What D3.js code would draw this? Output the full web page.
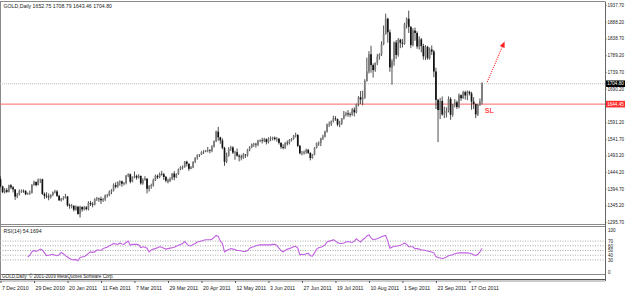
<!DOCTYPE html>
<html><head><meta charset="utf-8">
<script src="https://cdn.jsdelivr.net/npm/d3@7"></script>
<style>
html,body{margin:0;padding:0;background:#fff;}
svg{display:block;font-family:"Liberation Sans",Arial,sans-serif;}
</style></head><body>
<svg id="c" width="625" height="291"></svg>
<script>
// ---------- data ----------
const symbolTitle = "GOLD,Daily";
const lastOHLC = ["1652.75", "1708.79", "1643.46", "1704.80"];
const tickBars = [0, 16, 32, 48, 64, 80, 96, 112, 128, 144, 160, 176, 192, 208, 224];
const tickLabels = ["7 Dec 2010", "29 Dec 2010", "20 Jan 2011", "11 Feb 2011", "7 Mar 2011", "29 Mar 2011",
  "20 Apr 2011", "12 May 2011", "3 Jun 2011", "27 Jun 2011", "19 Jul 2011", "10 Aug 2011",
  "1 Sep 2011", "23 Sep 2011", "17 Oct 2011"];
const priceTicks = [1937.70, 1888.20, 1838.70, 1789.20, 1739.70, 1690.20, 1591.20, 1541.70,
  1493.20, 1444.20, 1394.70, 1345.20, 1295.70];
const rsiLevels = [70, 60, 50, 40, 30];
const rsiAxisLabels = [100, 70, 60, 50, 40, 30, 0];

const opens = [1422,1401,1384,1390,1385,1404,1398,1392,1371,1378,1388,1388,1387,1378,1380,1382,1405,1414,1405,1421,
1422,1379,1373,1371,1369,1376,1384,1386,1373,1360,1364,1367,1371,1345,1343,1343,1332,1341,1319,1340,
1333,1339,1334,1352,1349,1347,1363,1365,1364,1360,1363,1374,1375,1385,1388,1405,1400,1413,1416,1409,
1411,1433,1437,1415,1429,1432,1427,1432,1410,1420,1424,1394,1401,1404,1420,1432,1428,1438,1437,1429,
1418,1417,1424,1439,1428,1437,1452,1458,1459,1474,1468,1453,1457,1474,1486,1493,1495,1503,1504,1507,
1508,1506,1519,1535,1563,1546,1537,1515,1474,1492,1512,1516,1501,1502,1492,1489,1487,1495,1493,1510,
1517,1526,1527,1525,1536,1537,1536,1541,1532,1542,1544,1545,1541,1542,1530,1518,1515,1530,1529,1538,
1542,1551,1553,1521,1499,1500,1503,1509,1500,1485,1495,1515,1529,1530,1543,1548,1563,1584,1586,1594,
1602,1600,1584,1587,1602,1613,1617,1614,1613,1628,1620,1644,1665,1658,1663,1713,1741,1792,1760,1745,
1766,1785,1791,1822,1852,1897,1857,1753,1771,1827,1790,1835,1826,1823,1881,1897,1873,1819,1862,1855,
1815,1836,1816,1786,1814,1780,1806,1800,1741,1657,1627,1654,1614,1617,1624,1660,1613,1642,1650,1636,
1671,1662,1680,1670,1681,1676,1652,1645,1614,1642,1652.75];
const highs = [1431,1403,1396,1396,1406,1408,1402,1393,1382,1392,1392,1392,1390,1383,1389,1408,1418,1416,1424,1424,
1424,1383,1384,1380,1378,1386,1391,1390,1376,1367,1372,1379,1373,1350,1349,1346,1345,1343,1344,1342,
1343,1343,1357,1358,1355,1366,1370,1368,1371,1367,1377,1379,1389,1393,1410,1413,1416,1419,1418,1414,
1435,1440,1439,1431,1445,1436,1437,1433,1425,1431,1425,1405,1409,1424,1436,1436,1442,1447,1441,1432,
1424,1428,1440,1446,1440,1454,1461,1463,1476,1477,1469,1461,1475,1487,1496,1497,1505,1508,1509,1518,
1511,1523,1537,1566,1577,1548,1543,1518,1501,1517,1521,1520,1506,1513,1496,1495,1500,1497,1512,1520,
1528,1530,1530,1539,1540,1545,1545,1543,1546,1549,1548,1549,1547,1544,1531,1526,1532,1537,1541,1544,
1553,1560,1556,1524,1506,1507,1513,1512,1502,1497,1517,1531,1534,1545,1554,1566,1587,1593,1596,1610,
1609,1602,1595,1603,1624,1622,1627,1620,1633,1635,1646,1668,1683,1684,1718,1782,1801,1817,1765,1768,
1793,1795,1830,1877,1912,1900,1865,1777,1830,1834,1840,1838,1837,1885,1901,1921,1875,1869,1871,1860,
1845,1840,1823,1819,1817,1812,1818,1805,1752,1660,1663,1667,1637,1635,1667,1665,1645,1659,1655,1676,
1673,1684,1684,1685,1684,1681,1665,1646,1645,1661,1708.79];
const lows = [1398,1381,1380,1382,1383,1393,1383,1361,1366,1374,1382,1382,1375,1376,1376,1380,1403,1401,1404,1411,
1376,1364,1366,1360,1365,1372,1380,1370,1358,1356,1360,1365,1341,1335,1336,1327,1329,1318,1309,1326,
1330,1330,1330,1343,1339,1345,1358,1355,1349,1355,1358,1368,1372,1378,1386,1395,1397,1403,1400,1404,
1407,1428,1410,1413,1425,1421,1424,1406,1406,1418,1380,1386,1394,1400,1417,1423,1425,1433,1420,1413,
1410,1414,1420,1419,1426,1435,1449,1451,1456,1460,1447,1452,1455,1470,1480,1488,1494,1497,1502,1502,
1499,1502,1516,1532,1536,1527,1511,1462,1470,1489,1506,1497,1480,1489,1475,1478,1482,1485,1489,1505,
1514,1518,1516,1520,1532,1528,1532,1525,1528,1535,1537,1537,1533,1525,1512,1511,1512,1522,1525,1534,
1539,1546,1517,1496,1493,1495,1497,1497,1478,1483,1493,1513,1521,1520,1538,1546,1560,1577,1580,1590,
1595,1579,1576,1583,1599,1608,1607,1606,1610,1608,1617,1638,1645,1641,1660,1711,1735,1737,1723,1740,
1760,1776,1787,1819,1850,1826,1740,1702,1758,1778,1785,1810,1812,1820,1868,1855,1810,1815,1832,1808,
1806,1798,1776,1775,1776,1776,1790,1724,1630,1532,1600,1610,1603,1605,1620,1598,1607,1635,1630,1632,
1654,1660,1658,1656,1670,1628,1630,1603,1609,1639,1643.46];
const closes = [1401,1384,1390,1385,1404,1398,1392,1371,1378,1388,1388,1387,1378,1380,1382,1405,1414,1405,1421,1422,
1379,1373,1371,1369,1376,1384,1386,1373,1360,1364,1367,1371,1345,1343,1343,1332,1341,1319,1340,1333,
1339,1334,1352,1349,1347,1363,1365,1364,1360,1363,1374,1375,1385,1388,1405,1400,1413,1416,1409,1411,
1433,1437,1415,1429,1432,1427,1432,1410,1420,1424,1394,1401,1404,1420,1432,1428,1438,1437,1429,1418,
1417,1424,1439,1428,1437,1452,1458,1459,1474,1468,1453,1457,1474,1486,1493,1495,1503,1504,1507,1508,
1506,1519,1535,1563,1546,1537,1515,1474,1492,1512,1516,1501,1502,1492,1489,1487,1495,1493,1510,1517,
1526,1527,1525,1536,1537,1536,1541,1532,1542,1544,1545,1541,1542,1530,1518,1515,1530,1529,1538,1542,
1551,1553,1521,1499,1500,1503,1509,1500,1485,1495,1515,1529,1530,1543,1548,1563,1584,1586,1594,1602,
1600,1584,1587,1602,1613,1617,1614,1613,1628,1620,1644,1665,1658,1663,1713,1741,1792,1760,1745,1766,
1785,1791,1822,1852,1897,1857,1753,1771,1827,1790,1835,1826,1823,1881,1897,1873,1819,1862,1855,1815,
1836,1816,1786,1814,1780,1806,1800,1741,1657,1627,1654,1614,1617,1624,1660,1613,1642,1650,1636,1671,
1662,1680,1670,1681,1676,1652,1645,1614,1642,1652.75,1704.80];

const rsiStart = 13;
const rsiValues = [36,40,47,50,48,50,53,51,45,39,40,41,42,40,39,41,46,43,39,36,
33,31,30,31,28,35,36,37,40,44,47,46,47,51,51,50,54,56,57,60,
62,65,64,63,66,64,63,67,70,61,63,63,63,62,56,58,57,55,47,51,
53,54,56,58,57,55,53,54,55,56,57,59,61,63,65,69,64,60,60,63,
65,68,69,70,72,73,73,73,74,78,82,80,70,65,47,50,52,54,53,52,
50,50,49,48,48,50,55,57,58,60,61,62,62,62,62,62,62,63,63,61,
55,50,47,50,53,54,56,58,59,55,41,42,41,43,44,39,38,45,53,56,
57,59,62,68,70,71,73,70,67,65,65,66,68,69,68,67,70,75,71,68,
73,76,81,83,77,73,74,75,77,79,81,82,70,55,57,59,59,60,61,63,
66,63,58,58,58,54,54,53,51,51,50,49,48,47,45,37,35,34,33,34,
36,39,40,41,43,44,45,45,45,45,45,44,43,41,39,42,47,54.1694];

const stopLoss = 1644.45;
const stopLabel = "SL";
const lastPrice = 1704.80;
const arrowFrom = [232.5, 1710];
const arrowTo = [240.8, 1830];
const copyright = "GOLD,Daily: \u00a9 2001-2009 MetaQuotes Software Corp.";

// ---------- layout ----------
const svg = d3.select("#c");
const plotR = 605;
const mainTop = 1.5, mainBot = 224.5, rsiTop = 226.5, rsiBot = 274.5;
const fs = 5.2;      // general small text
const fsAxis = 4.6;  // right price scale text
const FONT = "Liberation Sans, Arial, sans-serif";

const x = d3.scaleLinear().domain([0, 230]).range([0.5, 482]);
const y = d3.scaleLinear().domain([1295.70, 1937.70]).range([222, 5]);
const yr = d3.scaleLinear().domain([0, 100]).range([274, 227]);

// frames
const frame = svg.append("g").attr("stroke", "#8a8a8a").attr("fill", "none").attr("stroke-width", 1);
frame.append("line").attr("x1", 0).attr("x2", plotR).attr("y1", mainTop).attr("y2", mainTop);
frame.append("line").attr("x1", 0.5).attr("x2", 0.5).attr("y1", mainTop).attr("y2", 279);
frame.append("line").attr("x1", 0).attr("x2", plotR).attr("y1", mainBot).attr("y2", mainBot);
frame.append("line").attr("x1", 0).attr("x2", plotR).attr("y1", rsiTop).attr("y2", rsiTop);
frame.append("line").attr("x1", 0).attr("x2", plotR).attr("y1", rsiBot).attr("y2", rsiBot);
frame.append("line").attr("x1", 0).attr("x2", plotR).attr("y1", 279.5).attr("y2", 279.5).attr("stroke", "#555");
frame.append("line").attr("x1", 0).attr("x2", plotR).attr("y1", 281).attr("y2", 281).attr("stroke", "#999");

// price line & SL line
svg.append("line").attr("x1", 0).attr("x2", plotR).attr("y1", y(lastPrice)).attr("y2", y(lastPrice))
  .attr("stroke", "#bdbdbd").attr("stroke-dasharray", "1,1");
svg.append("line").attr("x1", 0).attr("x2", plotR).attr("y1", y(stopLoss)).attr("y2", y(stopLoss))
  .attr("stroke", "#ff6464").attr("stroke-width", 1);

// candles
const idx = d3.range(closes.length);
const cg = svg.append("g");
cg.selectAll("line.w").data(idx).join("line").attr("class", "w")
  .attr("x1", i => x(i)).attr("x2", i => x(i))
  .attr("y1", i => y(highs[i])).attr("y2", i => y(lows[i]))
  .attr("stroke", "#3a3a3a").attr("stroke-width", 0.9);
cg.selectAll("rect.b").data(idx).join("rect").attr("class", "b")
  .attr("x", i => x(i) - 0.85).attr("width", 1.7)
  .attr("y", i => y(Math.max(opens[i], closes[i])))
  .attr("height", i => Math.max(0.6, Math.abs(y(opens[i]) - y(closes[i]))))
  .attr("fill", i => closes[i] >= opens[i] ? "#7a7a7a" : "#111");

// arrow
const ax1 = x(arrowFrom[0]), ay1 = y(arrowFrom[1]), ax2 = x(arrowTo[0]), ay2 = y(arrowTo[1]);
const ang = Math.atan2(ay2 - ay1, ax2 - ax1);
const hl = 6, hw = 2.6;
const bx = ax2 - hl * Math.cos(ang), by = ay2 - hl * Math.sin(ang);
svg.append("line").attr("x1", ax1).attr("y1", ay1).attr("x2", bx).attr("y2", by)
  .attr("stroke", "#ff2020").attr("stroke-width", 1.1).attr("stroke-dasharray", "1,1.2");
svg.append("path").attr("fill", "#ff2020")
  .attr("d", `M${ax2},${ay2}L${bx + hw * Math.sin(ang)},${by - hw * Math.cos(ang)}L${bx - hw * Math.sin(ang)},${by + hw * Math.cos(ang)}Z`);
svg.append("text").attr("x", x(231.3)).attr("y", y(stopLoss) + 8.5).text(stopLabel)
  .attr("font-size", 7).attr("font-weight", "bold").attr("fill", "#ff4a4a");

// RSI levels
svg.append("g").selectAll("line").data(rsiLevels).join("line")
  .attr("x1", 0).attr("x2", plotR).attr("y1", d => yr(d)).attr("y2", d => yr(d))
  .attr("stroke", "#a8a8a8").attr("stroke-dasharray", "1,1.5");
const rsiLine = d3.line().x((d, k) => x(rsiStart + k)).y(d => yr(d));
svg.append("path").datum(rsiValues).attr("d", rsiLine).attr("fill", "none")
  .attr("stroke", "#c060e0").attr("stroke-width", 1.1);

// right price axis
const pAxis = d3.axisRight(y).tickValues(priceTicks).tickSize(1.5).tickPadding(1).tickFormat(d3.format(".2f"));
const pa = svg.append("g").attr("transform", `translate(${plotR},0)`).call(pAxis);
pa.select(".domain").remove();
pa.selectAll("text").attr("font-size", fsAxis).attr("font-family", FONT).attr("fill", "#222");
pa.selectAll("line").attr("stroke", "#555");
svg.append("line").attr("x1", plotR + 0.5).attr("x2", plotR + 0.5).attr("y1", mainTop).attr("y2", 281).attr("stroke", "#666");

// RSI axis
const rAxis = d3.axisRight(yr).tickValues(rsiAxisLabels).tickSize(0).tickPadding(3).tickFormat(d3.format("d"));
const ra = svg.append("g").attr("transform", `translate(${plotR},0)`).call(rAxis);
ra.select(".domain").remove();
ra.selectAll("text").attr("font-size", fsAxis).attr("font-family", FONT).attr("fill", "#222")
  .attr("dy", d => d === 100 ? "0.9em" : d === 0 ? "-0.1em" : "0.32em");

// price boxes
function priceBox(v, bg) {
  const g = svg.append("g");
  g.append("rect").attr("x", plotR + 1).attr("y", y(v) - 3.3).attr("width", 19).attr("height", 6.6).attr("fill", bg);
  g.append("text").attr("x", plotR + 2.2).attr("y", y(v) + 1.7).text(d3.format(".2f")(v))
    .attr("font-size", fsAxis).attr("font-family", FONT).attr("fill", "#fff");
}
priceBox(lastPrice, "#000");
priceBox(stopLoss, "#ff2a2a");

// x axis
const xAxis = d3.axisBottom(x).tickValues(tickBars).tickSize(2).tickPadding(3).tickFormat((d, i) => tickLabels[i]);
const xa = svg.append("g").attr("transform", "translate(0,281)").call(xAxis);
xa.select(".domain").remove();
xa.selectAll("text").attr("font-size", fs).attr("font-family", FONT)
  .attr("fill", "#222").attr("text-anchor", "start").attr("dx", "1");
xa.selectAll("line").attr("stroke", "#555");

// titles
svg.append("text").attr("x", 3.5).attr("y", 8).attr("font-size", fs).attr("fill", "#222")
  .text(`${symbolTitle}  ${lastOHLC.join(" ")}`);
svg.append("text").attr("x", 3.5).attr("y", 233).attr("font-size", fs).attr("fill", "#222")
  .text(`RSI(14) ${rsiValues[rsiValues.length - 1].toFixed(4)}`);
svg.append("text").attr("x", 2).attr("y", 278.3).attr("font-size", 4.6).attr("fill", "#222")
  .text(copyright);
</script>
</body></html>
